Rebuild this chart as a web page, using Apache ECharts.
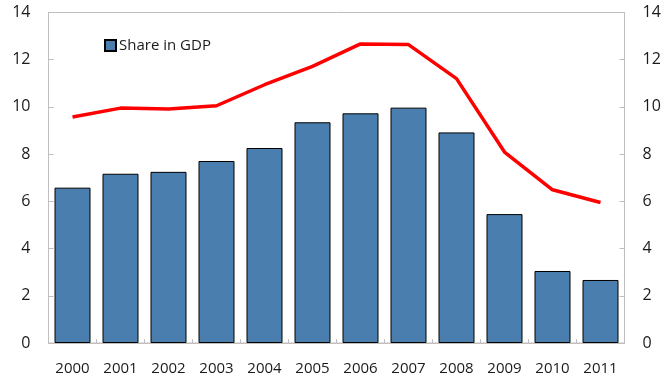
<!DOCTYPE html>
<html><head><meta charset="utf-8">
<script src="https://cdn.jsdelivr.net/npm/echarts@6/dist/echarts.min.js"></script>
<style>html,body{margin:0;padding:0;background:#fff}#c{width:665px;height:380px}</style>
</head><body><div id="c"></div>
<script>
var categories = ['2000','2001','2002','2003','2004','2005','2006','2007','2008','2009','2010','2011'];
var shareInGDP = [6.58, 7.17, 7.25, 7.71, 8.26, 9.35, 9.73, 9.97, 8.92, 5.46, 3.05, 2.67];
var lineValues = [9.57, 9.95, 9.91, 10.05, 10.94, 11.72, 12.67, 12.64, 11.2, 8.09, 6.49, 5.95];
var yTicks = [0, 2, 4, 6, 8, 10, 12, 14];

var font = '"Open Sans", "Noto Sans", sans-serif';
var chart = echarts.init(document.getElementById('c'), null, {renderer: 'canvas'});
var yAxisBase = function (pos) {
  return {
    type: 'value', position: pos, min: yTicks[0], max: yTicks[yTicks.length - 1], interval: 2,
    axisLine: {show: true, lineStyle: {color: '#bfbfbf', width: 1}},
    axisTick: {show: true, inside: true, length: 5, lineStyle: {color: '#bfbfbf'}},
    splitLine: {show: false},
    axisLabel: {color: '#1a1a1a', fontSize: 16, fontFamily: font, margin: 18}
  };
};
chart.setOption({
  animation: false,
  grid: {left: 48.5, right: 40.5, top: 12.5, bottom: 37, show: true, borderColor: '#bfbfbf', borderWidth: 1},
  legend: {
    show: true, left: 104, top: 38, padding: 0, itemWidth: 11, itemHeight: 11, itemGap: 4,
    data: [{name: 'Share in GDP', icon: 'rect'}],
    textStyle: {fontSize: 15, fontFamily: font, color: '#1a1a1a', padding: [0, 0, 0, -2]}
  },
  xAxis: {
    type: 'category', data: categories,
    axisLine: {show: true, lineStyle: {color: '#bfbfbf'}},
    axisTick: {show: true, inside: true, length: 4, alignWithLabel: false, lineStyle: {color: '#bfbfbf'}},
    axisLabel: {color: '#1a1a1a', fontSize: 15, fontFamily: font, margin: 18}
  },
  yAxis: [yAxisBase('left'), yAxisBase('right')],
  series: [
    {
      name: 'Share in GDP', type: 'bar', data: shareInGDP, barWidth: 36, yAxisIndex: 0,
      itemStyle: {color: '#4a7eae', borderColor: '#000', borderWidth: 1}
    },
    {
      name: 'Line', type: 'line', data: lineValues, yAxisIndex: 1, symbol: 'none',
      lineStyle: {color: '#ff0000', width: 3.5}
    }
  ]
});
</script></body></html>
